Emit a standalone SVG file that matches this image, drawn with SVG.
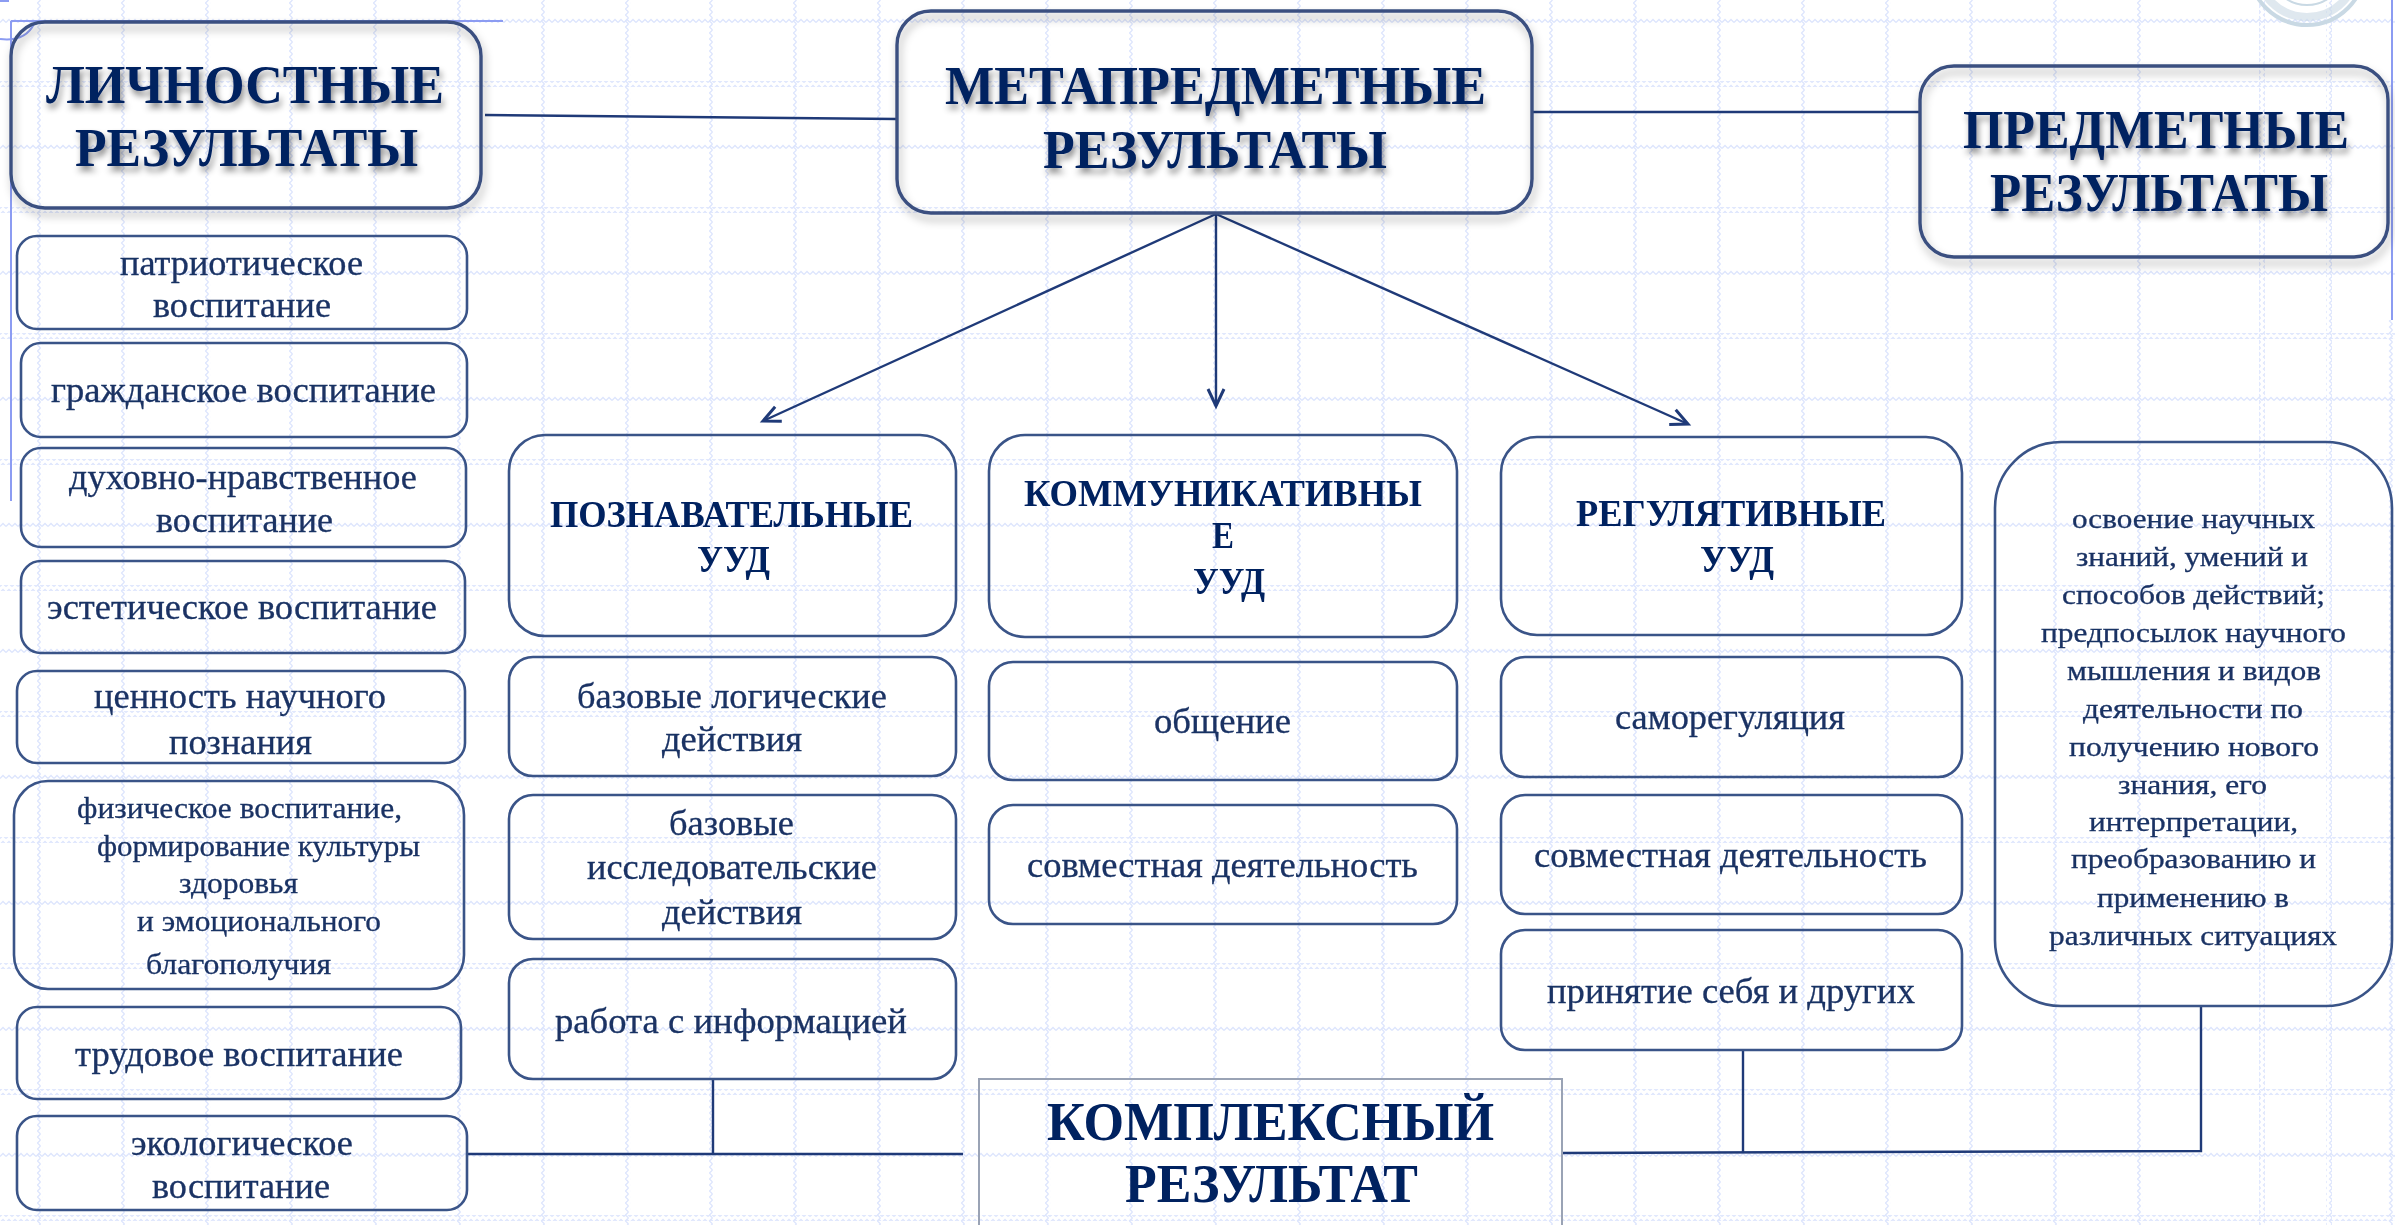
<svg xmlns="http://www.w3.org/2000/svg" width="2395" height="1225" viewBox="0 0 2395 1225">
<style>
text{font-family:"Liberation Serif","Times New Roman",serif}
.big{font-size:54px;font-weight:bold;fill:#002060;filter:url(#ts)}
.mid{font-size:38px;font-weight:bold;fill:#002060;filter:url(#soft)}
.t{font-size:35px;fill:#1a3264;stroke:#1a3264;stroke-width:.3;filter:url(#soft)}
.s{font-size:30px;fill:#1a3264;stroke:#1a3264;stroke-width:.3;filter:url(#soft)}
.r{font-size:28px;fill:#1a3264;stroke:#1a3264;stroke-width:.3;filter:url(#soft)}
.box{fill:none;stroke:#3a5488;stroke-width:2.6}
.main{fill:none;stroke:#3a5080;stroke-width:3.4;filter:url(#ds)}
.con{fill:none;stroke:#1f3a78;stroke-width:2.4}
.frame{fill:none;stroke:#8c9cf2;stroke-width:2}
</style>
<defs>
<filter id="ds" x="-5%" y="-5%" width="110%" height="115%"><feDropShadow dx="2" dy="6" stdDeviation="4" flood-color="#000" flood-opacity=".32"/></filter>
<filter id="ts" x="-5%" y="-20%" width="110%" height="150%"><feGaussianBlur in="SourceGraphic" stdDeviation=".6" result="b"/><feDropShadow in="b" dx="2" dy="5" stdDeviation="3" flood-color="#000" flood-opacity=".45"/></filter>
<filter id="soft" x="-5%" y="-20%" width="110%" height="140%"><feGaussianBlur stdDeviation=".6"/></filter>
<pattern id="zh" width="6" height="6" patternUnits="userSpaceOnUse"><path d="M0 4.5 L3 1.5 L6 4.5" fill="none" stroke="#dde5fd" stroke-width="1.3"/></pattern>
<pattern id="zv" width="6" height="6" patternUnits="userSpaceOnUse"><path d="M4.5 0 L1.5 3 L4.5 6" fill="none" stroke="#dde5fd" stroke-width="1.3"/></pattern>
<marker id="arr" markerWidth="26" markerHeight="26" refX="22" refY="11" orient="auto" markerUnits="userSpaceOnUse"><path d="M5 3 L22 11 L5 19" fill="none" stroke="#1f3a78" stroke-width="3"/></marker>
</defs>
<rect width="2395" height="1225" fill="#fff"/>
<g id="grid">
<g fill="url(#zh)">
<rect x="0" y="18" width="2395" height="6"/><rect x="0" y="81" width="2395" height="6"/><rect x="0" y="144" width="2395" height="6"/><rect x="0" y="207" width="2395" height="6"/><rect x="0" y="270" width="2395" height="6"/><rect x="0" y="333" width="2395" height="6"/><rect x="0" y="396" width="2395" height="6"/><rect x="0" y="459" width="2395" height="6"/><rect x="0" y="522" width="2395" height="6"/><rect x="0" y="585" width="2395" height="6"/><rect x="0" y="648" width="2395" height="6"/><rect x="0" y="711" width="2395" height="6"/><rect x="0" y="774" width="2395" height="6"/><rect x="0" y="837" width="2395" height="6"/><rect x="0" y="900" width="2395" height="6"/><rect x="0" y="963" width="2395" height="6"/><rect x="0" y="1026" width="2395" height="6"/><rect x="0" y="1089" width="2395" height="6"/><rect x="0" y="1152" width="2395" height="6"/><rect x="0" y="1215" width="2395" height="6"/>
</g>
<g fill="url(#zv)">
<rect x="37" y="0" width="6" height="1225"/><rect x="121" y="0" width="6" height="1225"/><rect x="205" y="0" width="6" height="1225"/><rect x="289" y="0" width="6" height="1225"/><rect x="373" y="0" width="6" height="1225"/><rect x="457" y="0" width="6" height="1225"/><rect x="541" y="0" width="6" height="1225"/><rect x="625" y="0" width="6" height="1225"/><rect x="709" y="0" width="6" height="1225"/><rect x="793" y="0" width="6" height="1225"/><rect x="877" y="0" width="6" height="1225"/><rect x="961" y="0" width="6" height="1225"/><rect x="1045" y="0" width="6" height="1225"/><rect x="1129" y="0" width="6" height="1225"/><rect x="1213" y="0" width="6" height="1225"/><rect x="1297" y="0" width="6" height="1225"/><rect x="1381" y="0" width="6" height="1225"/><rect x="1465" y="0" width="6" height="1225"/><rect x="1549" y="0" width="6" height="1225"/><rect x="1633" y="0" width="6" height="1225"/><rect x="1717" y="0" width="6" height="1225"/><rect x="1801" y="0" width="6" height="1225"/><rect x="1885" y="0" width="6" height="1225"/><rect x="1969" y="0" width="6" height="1225"/><rect x="2053" y="0" width="6" height="1225"/><rect x="2137" y="0" width="6" height="1225"/><rect x="2259" y="0" width="6" height="1225"/><rect x="2326" y="0" width="6" height="1225"/><rect x="2388" y="320" width="6" height="905"/>
</g>
</g>
<g id="page-frame">
<path class="frame" d="M11 21H503M11 21V501M2392 0V320M0 1H9"/>
<path class="frame" d="M0 39Q25 42 34 24" stroke-width="1.5"/>
</g>
<g id="seal" fill="none" stroke="#c9d9e4">
<circle cx="2307" cy="-33" r="58" stroke-width="4"/><circle cx="2307" cy="-33" r="50" stroke-width="8" opacity=".6"/><circle cx="2307" cy="-33" r="38" stroke-width="2"/>
</g>
<g id="connectors">
<path class="con" d="M485 115L897 119"/>
<path class="con" d="M1532 112H1920"/>
<path class="con" d="M1216 214L763 421" marker-end="url(#arr)"/>
<path class="con" d="M1216 214V406" marker-end="url(#arr)"/>
<path class="con" d="M1216 214L1688 424" marker-end="url(#arr)"/>
<path class="con" d="M467 1154H963"/>
<path class="con" d="M713 1079V1154"/>
<path class="con" d="M1562 1153L2201 1151V1007"/>
<path class="con" d="M1743 1050V1152"/>
</g>
<g id="n-lichnostnye"><rect class="main" x="11" y="22" width="470" height="186" rx="34"/>
<text class="big" x="46" y="103" textLength="398" lengthAdjust="spacingAndGlyphs">ЛИЧНОСТНЫЕ</text>
<text class="big" x="75" y="166" textLength="343" lengthAdjust="spacingAndGlyphs">РЕЗУЛЬТАТЫ</text></g>
<g id="n-meta"><rect class="main" x="897" y="11" width="635" height="202" rx="34"/>
<text class="big" x="945" y="104" textLength="541" lengthAdjust="spacingAndGlyphs">МЕТАПРЕДМЕТНЫЕ</text>
<text class="big" x="1043" y="168" textLength="344" lengthAdjust="spacingAndGlyphs">РЕЗУЛЬТАТЫ</text></g>
<g id="n-predmet"><rect class="main" x="1920" y="66" width="468" height="191" rx="34"/>
<text class="big" x="1963" y="148" textLength="386" lengthAdjust="spacingAndGlyphs">ПРЕДМЕТНЫЕ</text>
<text class="big" x="1990" y="211" textLength="338" lengthAdjust="spacingAndGlyphs">РЕЗУЛЬТАТЫ</text></g>
<g id="n-l1"><rect class="box" x="17" y="236" width="450" height="93" rx="20"/>
<text class="t" x="120" y="275" textLength="243" lengthAdjust="spacingAndGlyphs">патриотическое</text>
<text class="t" x="153" y="317" textLength="178" lengthAdjust="spacingAndGlyphs">воспитание</text></g>
<g id="n-l2"><rect class="box" x="21" y="343" width="446" height="94" rx="20"/>
<text class="t" x="51" y="402" textLength="385" lengthAdjust="spacingAndGlyphs">гражданское воспитание</text></g>
<g id="n-l3"><rect class="box" x="21" y="448" width="445" height="99" rx="20"/>
<text class="t" x="69" y="489" textLength="348" lengthAdjust="spacingAndGlyphs">духовно-нравственное</text>
<text class="t" x="156" y="532" textLength="177" lengthAdjust="spacingAndGlyphs">воспитание</text></g>
<g id="n-l4"><rect class="box" x="21" y="561" width="444" height="92" rx="20"/>
<text class="t" x="47" y="619" textLength="390" lengthAdjust="spacingAndGlyphs">эстетическое воспитание</text></g>
<g id="n-l5"><rect class="box" x="17" y="671" width="448" height="92" rx="20"/>
<text class="t" x="94" y="708" textLength="292" lengthAdjust="spacingAndGlyphs">ценность научного</text>
<text class="t" x="169" y="754" textLength="143" lengthAdjust="spacingAndGlyphs">познания</text></g>
<g id="n-l6"><rect class="box" x="14" y="781" width="450" height="208" rx="34"/>
<text class="s" x="77" y="818" textLength="325" lengthAdjust="spacingAndGlyphs">физическое воспитание,</text>
<text class="s" x="97" y="856" textLength="323" lengthAdjust="spacingAndGlyphs">формирование культуры</text>
<text class="s" x="179" y="893" textLength="119" lengthAdjust="spacingAndGlyphs">здоровья</text>
<text class="s" x="137" y="931" textLength="244" lengthAdjust="spacingAndGlyphs">и эмоционального</text>
<text class="s" x="146" y="974" textLength="185" lengthAdjust="spacingAndGlyphs">благополучия</text></g>
<g id="n-l7"><rect class="box" x="17" y="1007" width="444" height="92" rx="20"/>
<text class="t" x="75" y="1066" textLength="328" lengthAdjust="spacingAndGlyphs">трудовое воспитание</text></g>
<g id="n-l8"><rect class="box" x="17" y="1116" width="450" height="94" rx="20"/>
<text class="t" x="131" y="1155" textLength="222" lengthAdjust="spacingAndGlyphs">экологическое</text>
<text class="t" x="152" y="1198" textLength="178" lengthAdjust="spacingAndGlyphs">воспитание</text></g>
<g id="n-pozn"><rect class="box" x="509" y="435" width="447" height="201" rx="36"/>
<text class="mid" x="550" y="527" textLength="363" lengthAdjust="spacingAndGlyphs">ПОЗНАВАТЕЛЬНЫЕ</text>
<text class="mid" x="697" y="572" textLength="73" lengthAdjust="spacingAndGlyphs">УУД</text></g>
<g id="n-p1"><rect class="box" x="509" y="657" width="447" height="119" rx="24"/>
<text class="t" x="577" y="708" textLength="310" lengthAdjust="spacingAndGlyphs">базовые логические</text>
<text class="t" x="662" y="751" textLength="140" lengthAdjust="spacingAndGlyphs">действия</text></g>
<g id="n-p2"><rect class="box" x="509" y="795" width="447" height="144" rx="24"/>
<text class="t" x="669" y="835" textLength="125" lengthAdjust="spacingAndGlyphs">базовые</text>
<text class="t" x="587" y="879" textLength="290" lengthAdjust="spacingAndGlyphs">исследовательские</text>
<text class="t" x="662" y="924" textLength="140" lengthAdjust="spacingAndGlyphs">действия</text></g>
<g id="n-p3"><rect class="box" x="509" y="959" width="447" height="120" rx="24"/>
<text class="t" x="555" y="1033" textLength="352" lengthAdjust="spacingAndGlyphs">работа с информацией</text></g>
<g id="n-komm"><rect class="box" x="989" y="435" width="468" height="202" rx="36"/>
<text class="mid" x="1024" y="506" textLength="398" lengthAdjust="spacingAndGlyphs">КОММУНИКАТИВНЫ</text>
<text class="mid" x="1212" y="548" textLength="22" lengthAdjust="spacingAndGlyphs">Е</text>
<text class="mid" x="1193" y="594" textLength="72" lengthAdjust="spacingAndGlyphs">УУД</text></g>
<g id="n-k1"><rect class="box" x="989" y="662" width="468" height="118" rx="24"/>
<text class="t" x="1154" y="733" textLength="137" lengthAdjust="spacingAndGlyphs">общение</text></g>
<g id="n-k2"><rect class="box" x="989" y="805" width="468" height="119" rx="24"/>
<text class="t" x="1027" y="877" textLength="391" lengthAdjust="spacingAndGlyphs">совместная деятельность</text></g>
<g id="n-reg"><rect class="box" x="1501" y="437" width="461" height="198" rx="36"/>
<text class="mid" x="1576" y="526" textLength="310" lengthAdjust="spacingAndGlyphs">РЕГУЛЯТИВНЫЕ</text>
<text class="mid" x="1700" y="572" textLength="74" lengthAdjust="spacingAndGlyphs">УУД</text></g>
<g id="n-r1"><rect class="box" x="1501" y="657" width="461" height="120" rx="24"/>
<text class="t" x="1615" y="729" textLength="230" lengthAdjust="spacingAndGlyphs">саморегуляция</text></g>
<g id="n-r2"><rect class="box" x="1501" y="795" width="461" height="119" rx="24"/>
<text class="t" x="1534" y="867" textLength="393" lengthAdjust="spacingAndGlyphs">совместная деятельность</text></g>
<g id="n-r3"><rect class="box" x="1501" y="930" width="461" height="120" rx="24"/>
<text class="t" x="1547" y="1003" textLength="368" lengthAdjust="spacingAndGlyphs">принятие себя и других</text></g>
<g id="n-subject"><rect class="box" x="1995" y="442" width="397" height="564" rx="66"/>
<text class="r" x="2072" y="528" textLength="243" lengthAdjust="spacingAndGlyphs">освоение научных</text>
<text class="r" x="2076" y="566" textLength="232" lengthAdjust="spacingAndGlyphs">знаний, умений и</text>
<text class="r" x="2062" y="604" textLength="263" lengthAdjust="spacingAndGlyphs">способов действий;</text>
<text class="r" x="2041" y="642" textLength="305" lengthAdjust="spacingAndGlyphs">предпосылок научного</text>
<text class="r" x="2067" y="680" textLength="254" lengthAdjust="spacingAndGlyphs">мышления и видов</text>
<text class="r" x="2083" y="718" textLength="220" lengthAdjust="spacingAndGlyphs">деятельности по</text>
<text class="r" x="2069" y="756" textLength="250" lengthAdjust="spacingAndGlyphs">получению нового</text>
<text class="r" x="2118" y="794" textLength="149" lengthAdjust="spacingAndGlyphs">знания, его</text>
<text class="r" x="2089" y="831" textLength="209" lengthAdjust="spacingAndGlyphs">интерпретации,</text>
<text class="r" x="2071" y="868" textLength="245" lengthAdjust="spacingAndGlyphs">преобразованию и</text>
<text class="r" x="2097" y="907" textLength="192" lengthAdjust="spacingAndGlyphs">применению в</text>
<text class="r" x="2049" y="945" textLength="288" lengthAdjust="spacingAndGlyphs">различных ситуациях</text></g>
<g id="n-complex"><rect x="979" y="1079" width="583" height="160" fill="none" stroke="#9aa3b5" stroke-width="2"/>
<text class="big" style="filter:url(#soft)" x="1047" y="1140" textLength="447" lengthAdjust="spacingAndGlyphs">КОМПЛЕКСНЫЙ</text>
<text class="big" style="filter:url(#soft)" x="1125" y="1202" textLength="293" lengthAdjust="spacingAndGlyphs">РЕЗУЛЬТАТ</text></g>
</svg>
